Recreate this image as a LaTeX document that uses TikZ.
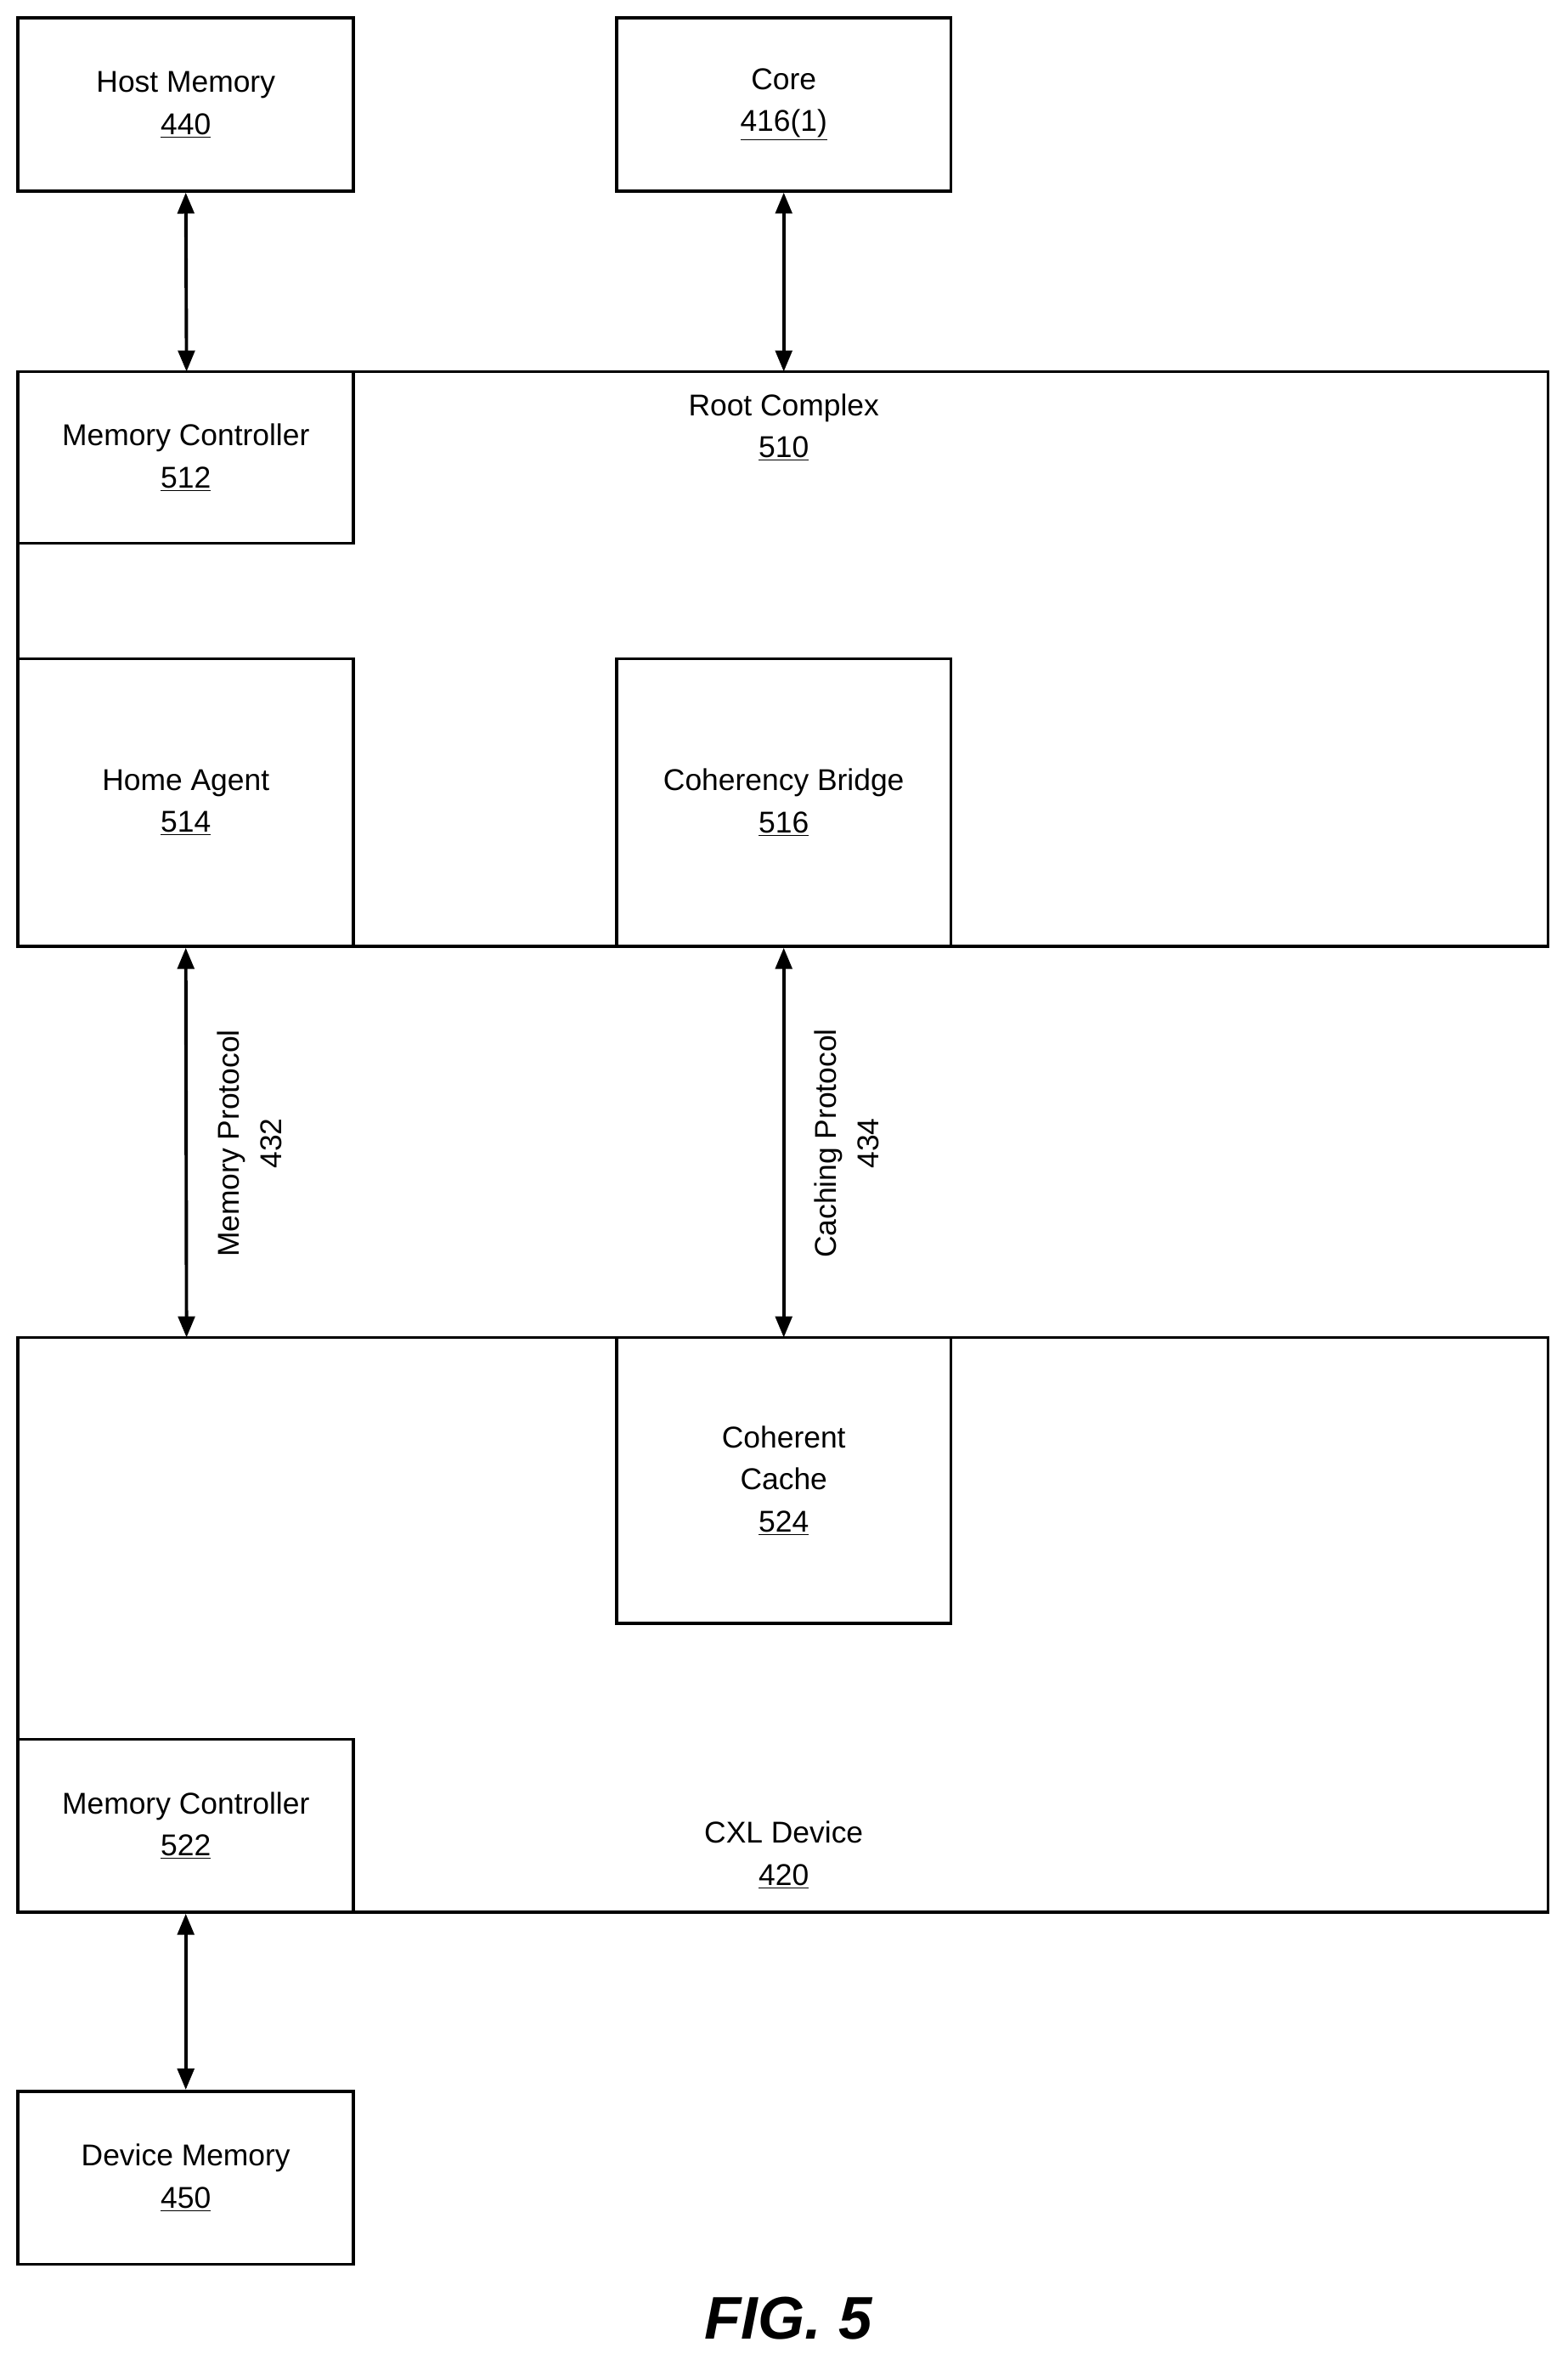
\documentclass[tikz,border=0pt]{standalone}
\usepackage{fontspec}
\setmainfont{Liberation Sans}
\usetikzlibrary{arrows.meta}
\begin{document}
\begin{tikzpicture}[x=1pt,y=-1pt,
  box/.style={draw,line width=2pt},
  lbl/.style={align=center,font=\fontsize{20}{28}\selectfont},
  arr/.style={line width=2.2pt,{Triangle[length=14pt,width=11pt]}-{Triangle[length=14pt,width=11pt]}}]
\useasboundingbox (0,0) rectangle (1042,1568);
\draw[box] (12,247) rectangle (1029,629) coordinate (rcbr);
\draw[box] (12,889) rectangle (1029,1271);
\node[box,minimum width=223pt,minimum height=115pt,lbl] (hm) at (123.5,69.5) {Host Memory\\\underline{440}};
\node[box,minimum width=222pt,minimum height=115pt,lbl] (core) at (521,69.5) {Core\\\underline{416(1)}};
\node[box,minimum width=223pt,minimum height=114pt,lbl] (mc1) at (123.5,304) {Memory Controller\\\underline{512}};
\node[box,minimum width=223pt,minimum height=191pt,lbl] (ha) at (123.5,533.5) {Home Agent\\\underline{514}};
\node[box,minimum width=222pt,minimum height=191pt,lbl] (cb) at (521,533.5) {Coherency Bridge\\\underline{516}};
\node[box,minimum width=222pt,minimum height=190pt,lbl] (cc) at (521,984) {Coherent\\Cache\\\underline{524}};
\node[box,minimum width=223pt,minimum height=115pt,lbl] (mc2) at (123.5,1213.5) {Memory Controller\\\underline{522}};
\node[box,minimum width=223pt,minimum height=115pt,lbl] (dm) at (123.5,1447.5) {Device Memory\\\underline{450}};
\node[lbl] (rc) at (521,284) {Root Complex\\\underline{510}};
\node[lbl] (cxl) at (521,1233) {CXL Device\\\underline{420}};
\coordinate (rtop) at (521,247);
\coordinate (ctop) at (521,889);
\coordinate (ltop) at (124,889);
\coordinate (mtop) at (124,247);
\draw[arr] (hm.south) -- (mtop);
\draw[arr] (core.south) -- (rtop);
\draw[arr] (ha.south) -- (ltop);
\draw[arr] (cb.south) -- (ctop);
\draw[arr] (mc2.south) -- (dm.north);
\node[lbl,rotate=90] (mp) at (166,760) {Memory Protocol\\432};
\node[lbl,rotate=90] (cp) at (563,760) {Caching Protocol\\434};
\node[font=\fontsize{40}{40}\selectfont\bfseries\itshape] (fig) at (524,1541) {FIG. 5};
\end{tikzpicture}
\end{document}
